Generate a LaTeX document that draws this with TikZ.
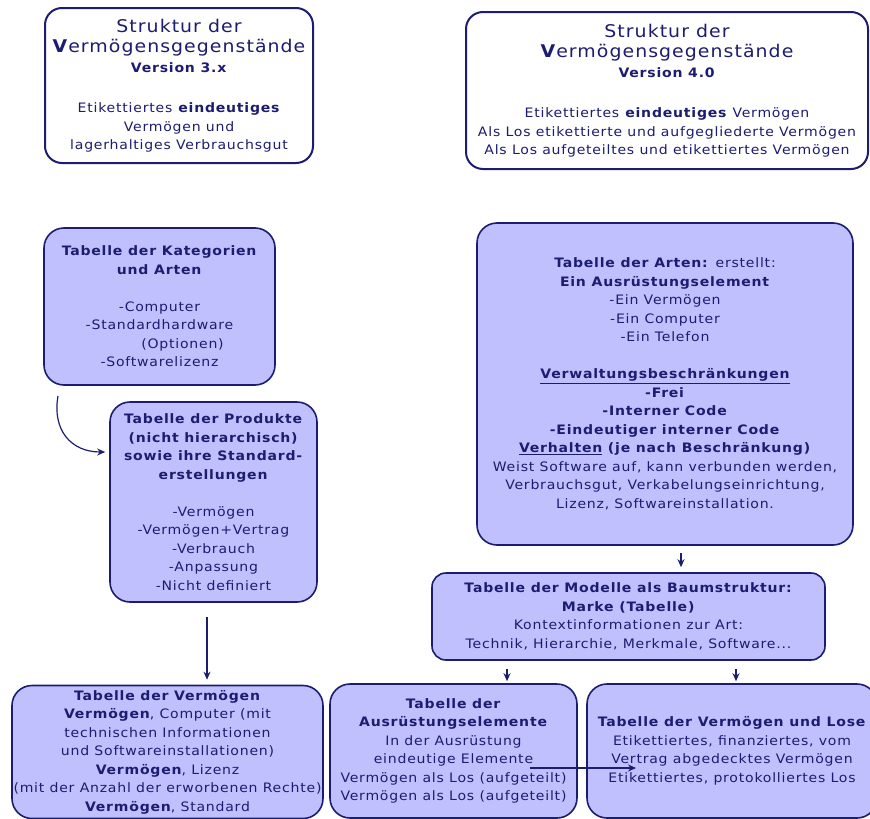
\documentclass[tikz,border=0pt]{standalone}
\usepackage{fontspec}
\setmainfont{DejaVu Sans}[FakeStretch=1.08, LetterSpace=6]
\usepackage{xcolor}
\usepackage{tikz}
\usetikzlibrary{arrows.meta}

\definecolor{navy}{RGB}{28,28,112}
\definecolor{lavendel}{RGB}{192,192,255}
\newcommand\grosstitel[1]{{\fontsize{17.5}{18.5}\selectfont #1}}

\begin{document}
\begin{tikzpicture}[x=1pt, y=-1pt,
         kopf/.style={draw=navy, line width=2pt, fill=white, rounded corners=17pt,
           text=navy, align=center, inner sep=0pt,
           font=\fontsize{13}{18.5}\selectfont},
         tabelle/.style={draw=navy, line width=1.6pt, fill=lavendel, rounded corners=20pt,
           text=navy, align=center, inner sep=0pt,
           font=\fontsize{13}{18.5}\selectfont},
         pfeil/.style={draw=navy, line width=1.2pt, -{Stealth[length=8pt,width=7pt]}}]
         \useasboundingbox (0, 0) rectangle (870, 819);

         \node [kopf, minimum width=268, minimum height=155] (alt) at (179, 85.5)
           {\grosstitel{Struktur der}\\[2pt]
            \grosstitel{\textbf{V}ermögensgegenstände}\\[1pt]
            \textbf{Version 3.x}\\[22pt]
            Etikettiertes \textbf{eindeutiges}\\
            Vermögen und\\
            lagerhaltiges Verbrauchsgut};
         \node [kopf, minimum width=402, minimum height=157] (neu) at (667, 90.5)
           {\grosstitel{Struktur der}\\[2pt]
            \grosstitel{\textbf{V}ermögensgegenstände}\\[1pt]
            \textbf{Version 4.0}\\[22pt]
            Etikettiertes \textbf{eindeutiges} Vermögen\\
            Als Los etikettierte und aufgegliederte Vermögen\\
            Als Los aufgeteiltes und etikettiertes Vermögen};

         \node [tabelle, minimum width=231, minimum height=157] (kat) at (159.5, 306.5)
           {\textbf{Tabelle der Kategorien}\\
            \textbf{und Arten}\\[18.5pt]
            -Computer\\
            -Standardhardware\\
            \hspace*{46pt}(Optionen)\\
            -Softwarelizenz};
         \node [tabelle, minimum width=207, minimum height=200] (prod) at (213.5, 502)
           {\textbf{Tabelle der Produkte}\\
            \textbf{(nicht hierarchisch)}\\
            \textbf{sowie ihre Standard-}\\
            \textbf{erstellungen}\\[18.5pt]
            -Vermögen\\
            -Vermögen+Vertrag\\
            -Verbrauch\\
            -Anpassung\\
            -Nicht definiert};
         \node [tabelle, minimum width=376, minimum height=322] (arten) at (665, 384)
           {\textbf{Tabelle der Arten:} erstellt:\\
            \textbf{Ein Ausrüstungselement}\\
            -Ein Vermögen\\
            -Ein Computer\\
            -Ein Telefon\\[18.5pt]
            \textbf{\underline{Verwaltungsbeschränkungen}}\\
            \textbf{-Frei}\\
            \textbf{-Interner Code}\\
            \textbf{-Eindeutiger interner Code}\\
            \textbf{\underline{Verhalten} (je nach Beschränkung)}\\
            Weist Software auf, kann verbunden werden,\\
            Verbrauchsgut, Verkabelungseinrichtung,\\
            Lizenz, Softwareinstallation.};
         \node [tabelle, minimum width=393, minimum height=87, rounded corners=14pt] (modelle) at (628.5, 616.5)
           {\textbf{Tabelle der Modelle als Baumstruktur:}\\
            \textbf{Marke (Tabelle)}\\
            Kontextinformationen zur Art:\\
            Technik, Hierarchie, Merkmale, Software...};

         \node [tabelle, minimum width=311, minimum height=133] (verm) at (167.5, 752)
           {\textbf{Tabelle der Vermögen}\\
            \textbf{Vermögen}, Computer (mit\\
            technischen Informationen\\
            und Softwareinstallationen)\\
            \textbf{Vermögen}, Lizenz\\
            (mit der Anzahl der erworbenen Rechte)\\
            \textbf{Vermögen}, Standard};
         \node [tabelle, minimum width=247, minimum height=134] (ausr) at (453.5, 751)
           {\textbf{Tabelle der}\\
            \textbf{Ausrüstungselemente}\\
            In der Ausrüstung\\
            eindeutige Elemente\\
            Vermögen als Los (aufgeteilt)\\
            Vermögen als Los (aufgeteilt)};
         \node [tabelle, minimum width=290, minimum height=134] (lose) at (732, 751)
           {\textbf{Tabelle der Vermögen und Lose}\\
            Etikettiertes, finanziertes, vom\\
            Vertrag abgedecktes Vermögen\\
            Etikettiertes, protokolliertes Los};

         \coordinate (kurve) at (58, 396);
         \coordinate (links) at (207, 617);
         \coordinate (mitte) at (681, 553);
         \coordinate (ma) at (507, 669);
         \coordinate (ml) at (736, 669);
         \coordinate (quer) at (530, 768);
         \coordinate (quertip) at (636, 768);
         \draw [pfeil] (kurve) to [out=-100, in=180, looseness=1.2] ([xshift=-4pt, yshift=50pt] prod.west);
         \draw [pfeil, shorten >=5pt] (links) -- (links |- verm.north);
         \draw [pfeil, shorten >=5pt] (mitte) -- (mitte |- modelle.north);
         \draw [pfeil, shorten >=2pt] (ma) -- (ma |- ausr.north);
         \draw [pfeil, shorten >=2pt] (ml) -- (ml |- lose.north);
         \draw [pfeil] (quer) -- (quertip);
        \end{tikzpicture}
\end{document}
